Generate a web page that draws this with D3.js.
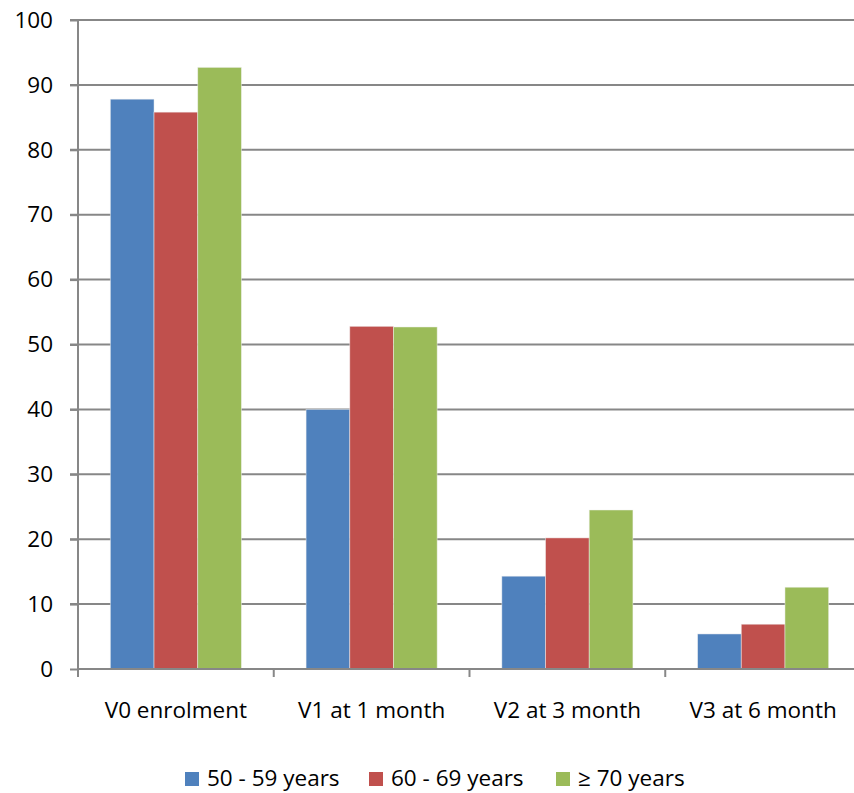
<!DOCTYPE html>
<html>
<head>
<meta charset="utf-8">
<script src="https://cdn.jsdelivr.net/npm/d3@7"></script>
<style>
  body { margin: 0; background: #fff; }
  text { font-family: "Open Sans", sans-serif; fill: #000; }
</style>
</head>
<body>
<svg id="chart" width="854" height="793"></svg>
<script>
const visits = ["V0 enrolment", "V1 at 1 month", "V2 at 3 month", "V3 at 6 month"];
const groups = ["50 - 59 years", "60 - 69 years", "\u2265 70 years"];
const age50 = [87.8, 40.0, 14.3, 5.4];
const age60 = [85.8, 52.8, 20.2, 6.9];
const age70 = [92.7, 52.7, 24.5, 12.6];
const yTicks = [0, 10, 20, 30, 40, 50, 60, 70, 80, 90, 100];
const colors = ["#4F81BD", "#C0504D", "#9BBB59"];

const series = [age50, age60, age70];
const fontSize = "22.5px";

const plotLeft = 78, plotRight = 861, plotTop = 20, plotBottom = 669;
const svg = d3.select("#chart");

const x = d3.scaleBand().domain(visits).range([plotLeft, plotRight]).padding(0);
const y = d3.scaleLinear().domain([0, 100]).range([plotBottom, plotTop]);
// bars fill 2/3 of each band (gap width 150%)
const inner = d3.scaleBand().domain(groups)
  .range([x.bandwidth() * 0.1652, x.bandwidth() * 0.8348]).padding(0);

// gridlines
svg.append("g")
  .selectAll("line")
  .data(yTicks.filter(d => d > 0))
  .join("line")
  .attr("x1", plotLeft - 8).attr("x2", plotRight)
  .attr("y1", d => y(d)).attr("y2", d => y(d))
  .attr("stroke", "#878787").attr("stroke-width", 2);

// bars
svg.append("g")
  .selectAll("g")
  .data(series)
  .join("g")
  .attr("fill", (d, i) => colors[i])
  .each(function(vals, i) {
    d3.select(this).selectAll("rect")
      .data(vals)
      .join("rect")
      .attr("x", (v, j) => x(visits[j]) + inner(groups[i]))
      .attr("width", inner.bandwidth())
      .attr("y", v => y(v))
      .attr("height", v => y(0) - y(v))
      .attr("stroke", "#f2f2f2")
      .attr("stroke-opacity", 0.6)
      .attr("stroke-width", 0.8);
  });

// y axis
const yAxis = d3.axisLeft(y).tickValues(yTicks).tickSize(8).tickPadding(17);
const gy = svg.append("g").attr("transform", `translate(${plotLeft},0)`).call(yAxis);
gy.select(".domain").attr("stroke", "#878787").attr("stroke-width", 2).attr("d", `M0,${plotTop}V${plotBottom}`);
gy.selectAll(".tick line").attr("stroke", "#878787").attr("stroke-width", 2);
gy.selectAll(".tick text").style("font-size", fontSize).attr("font-family", "Open Sans");

// x axis
const xAxis = d3.axisBottom(x).tickSize(0).tickPadding(33);
const gx = svg.append("g").attr("transform", `translate(0,${plotBottom})`).call(xAxis);
gx.select(".domain").attr("stroke", "#878787").attr("stroke-width", 2).attr("d", `M${plotLeft},0H${plotRight}`);
gx.selectAll(".tick text").style("font-size", fontSize).attr("font-family", "Open Sans");
gx.append("g")
  .selectAll("line")
  .data(visits)
  .join("line")
  .attr("x1", d => x(d)).attr("x2", d => x(d))
  .attr("y1", 0).attr("y2", 8)
  .attr("stroke", "#878787").attr("stroke-width", 2);

// legend
const legendX = [185, 369, 556];
const legend = svg.append("g").selectAll("g")
  .data(groups)
  .join("g")
  .attr("transform", (d, i) => `translate(${legendX[i]},772)`);
legend.append("rect").attr("width", 14).attr("height", 14).attr("fill", (d, i) => colors[i]);
legend.append("text").attr("x", 22).attr("y", 14).style("font-size", fontSize).text(d => d);
</script>
</body>
</html>
